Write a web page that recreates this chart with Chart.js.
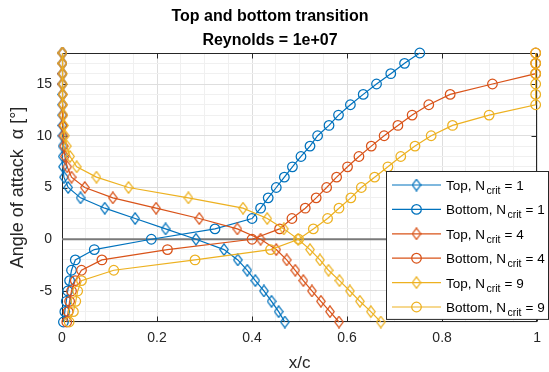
<!DOCTYPE html>
<html>
<head>
<meta charset="utf-8">
<script src="https://cdn.jsdelivr.net/npm/chart.js@4/dist/chart.umd.min.js"></script>
<style>
  html, body { margin: 0; padding: 0; background: #fff; }
  #wrap { width: 549px; height: 372px; position: relative; }
</style>
</head>
<body>
<div id="wrap"><canvas id="chart" width="549" height="372"></canvas></div>
<script>
// Angle of attack (deg) for every polar point
const alpha = [-8, -7, -6, -5, -4, -3, -2, -1, 0, 1, 2, 3, 4, 5, 6, 7, 8, 9, 10, 11, 12, 13, 14, 15, 16, 17, 18];

// Transition location x/c, one value per angle
const topN1    = [0.469, 0.456, 0.441, 0.425, 0.407, 0.390, 0.370, 0.341, 0.282, 0.218, 0.154, 0.090, 0.039, 0.013, 0.004, 0.002, 0.0015, 0.0012, 0.001, 0.001, 0.001, 0.001, 0.001, 0.001, 0.001, 0.001, 0.001];
const bottomN1 = [0.003, 0.006, 0.009, 0.012, 0.016, 0.020, 0.028, 0.068, 0.188, 0.322, 0.400, 0.418, 0.434, 0.451, 0.468, 0.485, 0.503, 0.522, 0.538, 0.562, 0.582, 0.607, 0.634, 0.662, 0.692, 0.721, 0.753];
const topN4    = [0.583, 0.564, 0.545, 0.526, 0.508, 0.491, 0.473, 0.451, 0.418, 0.369, 0.289, 0.198, 0.107, 0.048, 0.020, 0.011, 0.006, 0.004, 0.003, 0.002, 0.0015, 0.0013, 0.0012, 0.001, 0.001, 0.001, 0.001];
const bottomN4 = [0.010, 0.013, 0.016, 0.020, 0.028, 0.041, 0.084, 0.222, 0.400, 0.458, 0.484, 0.512, 0.535, 0.557, 0.578, 0.601, 0.625, 0.651, 0.678, 0.707, 0.737, 0.772, 0.817, 0.906, 0.997, 0.997, 0.997];
const topN9    = [0.671, 0.650, 0.627, 0.606, 0.584, 0.561, 0.543, 0.522, 0.497, 0.467, 0.432, 0.381, 0.266, 0.140, 0.0725, 0.031, 0.017, 0.010, 0.006, 0.004, 0.003, 0.002, 0.0015, 0.0013, 0.0012, 0.001, 0.001];
const bottomN9 = [0.015, 0.024, 0.029, 0.033, 0.041, 0.109, 0.280, 0.439, 0.498, 0.529, 0.559, 0.583, 0.608, 0.630, 0.658, 0.686, 0.713, 0.743, 0.777, 0.822, 0.899, 0.997, 0.997, 0.997, 0.997, 0.997, 0.997];

const seriesLabels = ['Top, N_{crit} = 1', 'Bottom, N_{crit} = 1', 'Top, N_{crit} = 4', 'Bottom, N_{crit} = 4', 'Top, N_{crit} = 9', 'Bottom, N_{crit} = 9'];

// Axis ticks
const xTickValues = [0, 0.2, 0.4, 0.6, 0.8, 1];
const xTickLabels = ['0', '0.2', '0.4', '0.6', '0.8', '1'];
const yTickValues = [-5, 0, 5, 10, 15];
const yTickLabels = ['-5', '0', '5', '10', '15'];

// ---------------------------------------------------------------
const FONT = '"Liberation Sans", Arial, Helvetica, sans-serif';
const BLUE = '#0072BD', ORANGE = '#D95319', YELLOW = '#EDB120';
const AXIS = '#262626';

function diamondMarker(color) {
  const w = 10, h = 13;
  const c = document.createElement('canvas');
  c.width = w; c.height = h;
  const g = c.getContext('2d');
  g.strokeStyle = color;
  g.lineWidth = 1.25;
  g.beginPath();
  g.moveTo(w / 2, 0.8);
  g.lineTo(w - 0.8, h / 2);
  g.lineTo(w / 2, h - 0.8);
  g.lineTo(0.8, h / 2);
  g.closePath();
  g.stroke();
  return c;
}

const series = [
  { xs: topN1,    color: BLUE,   marker: diamondMarker(BLUE) },
  { xs: bottomN1, color: BLUE,   marker: 'circle' },
  { xs: topN4,    color: ORANGE, marker: diamondMarker(ORANGE) },
  { xs: bottomN4, color: ORANGE, marker: 'circle' },
  { xs: topN9,    color: YELLOW, marker: diamondMarker(YELLOW) },
  { xs: bottomN9, color: YELLOW, marker: 'circle' }
];

const datasets = series.map((s, i) => ({
  label: seriesLabels[i],
  data: alpha.map((a, k) => ({ x: s.xs[k], y: a })),
  showLine: true,
  borderColor: s.color,
  backgroundColor: 'rgba(0,0,0,0)',
  borderWidth: 1.2,
  pointStyle: s.marker,
  pointRadius: 4.8,
  pointHoverRadius: 4.8,
  pointBorderWidth: 1.25,
  pointBorderColor: s.color,
  pointBackgroundColor: 'rgba(0,0,0,0)',
  clip: false,
  order: 10 - i,
  inLegend: true
}));

// horizontal reference line at zero incidence
datasets.push({
  label: 'zero',
  data: [{ x: 0, y: 0 }, { x: 1, y: 0 }],
  showLine: true,
  borderColor: '#7a7a7a',
  borderWidth: 2,
  pointRadius: 0,
  pointHoverRadius: 0,
  order: 50,
  inLegend: false
});

function isMajor(v, list) { return list.some(t => Math.abs(t - v) < 1e-9); }

// axes box with inward ticks on all four sides
const axesBox = {
  id: 'axesBox',
  beforeDatasetsDraw(chart) {
    const { ctx, chartArea: a, scales: { x, y } } = chart;
    const L = Math.round(a.left) + 0.5, R = Math.round(a.right) - 0.5;
    const T = Math.round(a.top) + 0.5, B = Math.round(a.bottom) - 0.5;
    const len = 5;
    ctx.save();
    ctx.strokeStyle = AXIS;
    ctx.lineWidth = 1;
    ctx.strokeRect(L, T, R - L, B - T);
    ctx.beginPath();
    xTickValues.forEach(v => {
      const p = Math.round(x.getPixelForValue(v)) + 0.5;
      ctx.moveTo(p, B); ctx.lineTo(p, B - len);
      ctx.moveTo(p, T); ctx.lineTo(p, T + len);
    });
    yTickValues.forEach(v => {
      const p = Math.round(y.getPixelForValue(v)) + 0.5;
      ctx.moveTo(L, p); ctx.lineTo(L + len, p);
      ctx.moveTo(R, p); ctx.lineTo(R - len, p);
    });
    ctx.stroke();
    ctx.restore();
  }
};

function splitTex(s) {
  const m = s.match(/^(.*)_\{(.*?)\}(.*)$/);
  return m ? [m[1], m[2], m[3]] : [s, '', ''];
}

// boxed legend in the lower right corner with subscript text
const boxLegend = {
  id: 'boxLegend',
  afterDraw(chart) {
    const { ctx } = chart;
    const items = chart.data.datasets.filter(d => d.inLegend);
    const left = 386.5, top = 171.5, right = 548.5;
    const rowH = 24.4;
    const bottom = top + 13 + rowH * items.length - 11.5;
    ctx.save();
    ctx.fillStyle = '#fff';
    ctx.fillRect(left, top, right - left, bottom - top);
    ctx.strokeStyle = AXIS;
    ctx.lineWidth = 1;
    ctx.strokeRect(left, top, right - left, bottom - top);
    items.forEach((d, i) => {
      const cy = top + 13.5 + i * rowH;
      ctx.strokeStyle = d.borderColor;
      ctx.lineWidth = d.borderWidth;
      ctx.beginPath();
      ctx.moveTo(392, cy); ctx.lineTo(441, cy);
      ctx.stroke();
      const mx = 416.5;
      if (typeof d.pointStyle === 'object') {
        ctx.drawImage(d.pointStyle, mx - d.pointStyle.width / 2, cy - d.pointStyle.height / 2);
      } else {
        ctx.lineWidth = d.pointBorderWidth;
        ctx.beginPath();
        ctx.arc(mx, cy, d.pointRadius, 0, Math.PI * 2);
        ctx.stroke();
      }
      const [main, sub, tail] = splitTex(d.label);
      const base = cy + 5;
      ctx.fillStyle = '#000';
      ctx.textBaseline = 'alphabetic';
      ctx.textAlign = 'left';
      ctx.font = '13.5px ' + FONT;
      let tx = 446;
      ctx.fillText(main, tx, base);
      tx += ctx.measureText(main).width + 1.5;
      ctx.font = '10.5px ' + FONT;
      ctx.fillText(sub, tx, base + 4);
      tx += ctx.measureText(sub).width + 0.3;
      ctx.font = '13.5px ' + FONT;
      ctx.fillText(tail, tx, base);
    });
    ctx.restore();
  }
};

const xGrid = [];
for (let k = 0; k <= 20; k++) xGrid.push(k / 20);
const yGrid = [];
for (let v = -8; v <= 18; v++) yGrid.push(v);

new Chart(document.getElementById('chart'), {
  type: 'scatter',
  data: { datasets },
  plugins: [axesBox, boxLegend],
  options: {
    responsive: false,
    animation: false,
    events: [],
    layout: { padding: { left: 0, right: 9, top: 0, bottom: 0 } },
    plugins: {
      legend: { display: false },
      tooltip: { enabled: false },
      title: {
        display: true,
        text: ['Top and bottom transition', 'Reynolds = 1e+07'],
        color: '#000',
        font: { family: FONT, size: 16, weight: 'bold', lineHeight: 1.5 },
        padding: { top: 4.5, bottom: 0.5 }
      }
    },
    scales: {
      x: {
        type: 'linear',
        min: 0, max: 1,
        afterBuildTicks: s => { s.ticks = xGrid.map(v => ({ value: v })); },
        afterFit: s => { s.height = 50; },
        border: { display: false },
        grid: {
          drawTicks: false,
          color: c => isMajor(c.tick.value, xTickValues) ? '#dedede' : '#f0f0f0',
          lineWidth: 1
        },
        ticks: {
          autoSkip: false,
          maxRotation: 0,
          padding: 8,
          color: AXIS,
          font: { family: FONT, size: 14 },
          callback: v => {
            const i = xTickValues.findIndex(t => Math.abs(t - v) < 1e-9);
            return i >= 0 ? xTickLabels[i] : '';
          }
        },
        title: {
          display: true,
          text: 'x/c',
          color: AXIS,
          font: { family: FONT, size: 17, lineHeight: 1 },
          padding: { top: 0, bottom: 0 }
        }
      },
      y: {
        type: 'linear',
        min: -8, max: 18,
        afterBuildTicks: s => { s.ticks = yGrid.map(v => ({ value: v })); },
        afterFit: s => { s.width = 62; },
        border: { display: false },
        grid: {
          drawTicks: false,
          color: c => isMajor(c.tick.value, yTickValues) ? '#dedede' : '#f0f0f0',
          lineWidth: 1
        },
        ticks: {
          autoSkip: false,
          padding: 10,
          color: AXIS,
          font: { family: FONT, size: 14 },
          callback: v => {
            const i = yTickValues.findIndex(t => Math.abs(t - v) < 1e-9);
            return i >= 0 ? yTickLabels[i] : '';
          }
        },
        title: {
          display: true,
          text: 'Angle of attack  α [°]',
          color: AXIS,
          font: { family: FONT, size: 18, lineHeight: 1 },
          padding: { top: 9, bottom: 0 }
        }
      }
    }
  }
});
</script>
</body>
</html>
